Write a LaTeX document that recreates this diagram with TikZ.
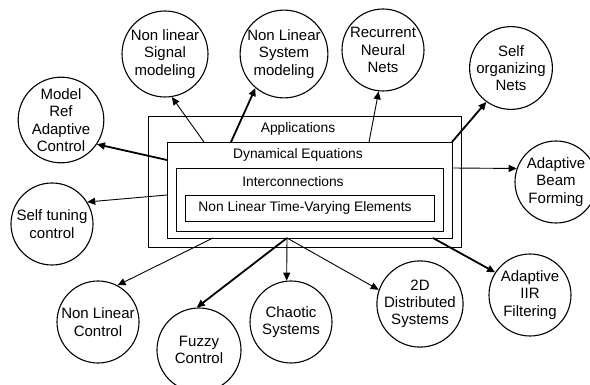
\documentclass[tikz,border=0pt]{standalone}
\usepackage{fontspec}
\setmainfont{Liberation Sans}
\usetikzlibrary{arrows.meta}
\begin{document}
\begin{tikzpicture}[x=1pt,y=-1pt,
  every node/.style={font=\fontsize{13.8}{17}\selectfont},
  bubble/.style={draw,circle,line width=1.1pt,inner sep=0pt,minimum size=82pt,align=center,font=\fontsize{15}{17.3}\selectfont},
  layerbox/.style={draw,line width=1pt,inner sep=0pt,anchor=north west},
  lbl/.style={inner sep=0pt,anchor=center},
  conn/.style={line width=0.9pt,-{Triangle[length=8pt,width=7pt]}},
  thickconn/.style={line width=1.8pt,-{Triangle[length=8pt,width=7pt]}}]
\clip (0,0) rectangle (590,385);
% layered boxes
\node[layerbox,minimum width=313pt,minimum height=131pt] (app) at (148,116) {};
\node[layerbox,fill=white,minimum width=285pt,minimum height=96pt] (dyn) at (167,142) {};
\node[layerbox,minimum width=267pt,minimum height=63pt] (inter) at (176,168) {};
\node[layerbox,minimum width=249pt,minimum height=26pt] (elem) at (185,195) {};
\node[lbl] (tapp) at (298,129) {Applications};
\node[lbl] (tdyn) at (298,155) {Dynamical Equations};
\node[lbl] (tint) at (293,182) {Interconnections};
\node[lbl] (telem) at (305,208) {Non Linear Time-Varying Elements};
% bubbles
\node[bubble,minimum size=86pt] (sig) at (165,54) {Non linear\\Signal\\modeling};
\node[bubble,minimum size=86pt] (sys) at (284,54) {Non Linear\\System\\modeling};
\node[bubble] (rnn) at (383,50) {Recurrent\\Neural\\Nets};
\node[bubble] (som) at (511,68) {Self\\organizing\\Nets};
\node[bubble] (beam) at (556,182) {Adaptive\\Beam\\Forming};
\node[bubble] (mrac) at (61,120) {Model\\Ref\\Adaptive\\Control};
\node[bubble] (stc) at (52,224) {Self tuning\\control};
\node[bubble] (nlc) at (98,322) {Non Linear\\Control};
\node[bubble,minimum size=84pt] (fuzzy) at (199,350) {Fuzzy\\Control};
\node[bubble] (chaos) at (291,322) {Chaotic\\Systems};
\node[bubble] (twod) at (420,304) {2D\\Distributed\\Systems};
\node[bubble] (iir) at (530,295) {Adaptive\\IIR\\Filtering};
% start points on the boxes
\coordinate (ssig) at (204,142);
\coordinate (ssys) at (231,142);
\coordinate (srnn) at (369,142);
\coordinate (ssom) at (452,142);
\coordinate (sbeam) at (452,168);
\coordinate (smrac) at (167,160);
\coordinate (sstc) at (167,195);
\coordinate (snlc) at (213,238);
\coordinate (shub) at (287,238);
\coordinate (siir) at (433,238);
% connectors
\draw[conn] (ssig) -- (sig.-81);
\draw[thickconn] (ssys) -- (sys.-130);
\draw[conn] (srnn) -- (rnn.-96);
\draw[thickconn] (ssom) -- (som.-126);
\draw[conn] (sbeam) -- (beam.161);
\draw[thickconn] (smrac) -- (mrac.-34);
\draw[conn] (sstc) -- (stc.32);
\draw[conn] (snlc) -- (nlc.62);
\draw[thickconn] (shub) -- (fuzzy.93);
\draw[conn] (shub) -- (chaos.96);
\draw[conn] (shub) -- (twod.161);
\draw[thickconn] (siir) -- (iir.147);
\end{tikzpicture}
\end{document}
